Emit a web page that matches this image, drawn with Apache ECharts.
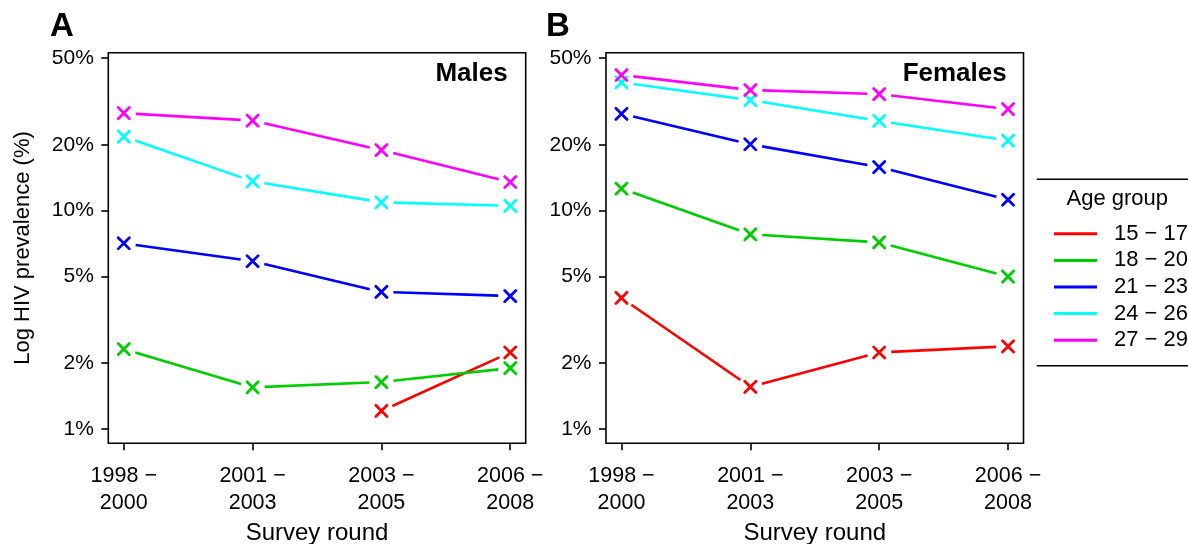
<!DOCTYPE html>
<html>
<head>
<meta charset="utf-8">
<script src="https://cdn.jsdelivr.net/npm/echarts@6/dist/echarts.min.js"></script>
<style>
html,body{margin:0;padding:0;background:#fff;}
#chart{width:1188px;height:544px;}
</style>
</head>
<body>
<div id="chart"></div>
<script>
// ---- data ----
const rounds = ['1998 \u2212\n2000', '2001 \u2212\n2003', '2003 \u2212\n2005', '2006 \u2212\n2008'];
const ageGroups = ['15 \u2212 17', '18 \u2212 20', '21 \u2212 23', '24 \u2212 26', '27 \u2212 29'];
const groupColors = ['#FF0000', '#00CD00', '#0000FF', '#00FFFF', '#FF00FF'];
const yTicks = [1, 2, 5, 10, 20, 50];

// Males (% HIV prevalence)
const males15_17 = [null, null, 1.21, 2.24];
const males18_20 = [2.32, 1.55, 1.64, 1.90];
const males21_23 = [7.08, 5.86, 4.24, 4.06];
const males24_26 = [21.8, 13.6, 10.9, 10.5];
const males27_29 = [27.9, 25.8, 18.9, 13.5];

// Females (% HIV prevalence)
const females15_17 = [3.98, 1.56, 2.24, 2.39];
const females18_20 = [12.6, 7.78, 7.15, 4.98];
const females21_23 = [27.7, 20.1, 15.8, 11.2];
const females24_26 = [38.6, 32.0, 25.7, 20.9];
const females27_29 = [41.7, 35.6, 34.1, 29.1];

const malesData = [males15_17, males18_20, males21_23, males24_26, males27_29];
const femalesData = [females15_17, females18_20, females21_23, females24_26, females27_29];

// ---- chart ----
const FONT = 'Liberation Sans, Arial, Helvetica, sans-serif';
const LW = 2.6;
const MW = 2.8;

function renderSeg(params, api) {
  const x = api.value(0), y = api.value(1), y2 = api.value(2);
  const color = api.visual('color');
  if (!(isFinite(y) && y > 0)) return { type: 'group', children: [] };
  const p = api.coord([x, y]);
  const s = 5.6;
  const st = { stroke: color, lineWidth: MW, lineCap: 'round' };
  const children = [
    { type: 'line', shape: { x1: p[0] - s, y1: p[1] - s, x2: p[0] + s, y2: p[1] + s }, style: st },
    { type: 'line', shape: { x1: p[0] - s, y1: p[1] + s, x2: p[0] + s, y2: p[1] - s }, style: st }
  ];
  if (isFinite(y2) && y2 > 0) {
    const q = api.coord([x + 1, y2]);
    const dx = q[0] - p[0], dy = q[1] - p[1];
    const L = Math.sqrt(dx * dx + dy * dy), g = 12;
    children.push({
      type: 'line',
      shape: { x1: p[0] + dx * g / L, y1: p[1] + dy * g / L, x2: q[0] - dx * g / L, y2: q[1] - dy * g / L },
      style: { stroke: color, lineWidth: LW }
    });
  }
  return { type: 'group', children: children };
}

function buildItems(vals) {
  const items = [];
  for (let i = 0; i < vals.length; i++) {
    const v = vals[i] == null ? NaN : vals[i];
    const n = (i + 1 < vals.length && vals[i + 1] != null) ? vals[i + 1] : NaN;
    items.push([i, v, n]);
  }
  return items;
}

const series = [];
[malesData, femalesData].forEach(function (panel, pi) {
  panel.forEach(function (vals, gi) {
    series.push({
      type: 'custom',
      name: ageGroups[gi],
      xAxisIndex: pi,
      yAxisIndex: pi,
      renderItem: renderSeg,
      itemStyle: { color: groupColors[gi] },
      encode: { x: 0, y: 1 },
      dimensions: ['x', 'y', 'y2'],
      data: buildItems(vals),
      z: 2 + gi
    });
  });
});

function xAxisDef(gi) {
  return {
    type: 'value', gridIndex: gi, min: -0.12, max: 3.12,
    axisLine: { show: false, onZero: false },
    axisTick: { show: true, customValues: [0, 1, 2, 3], length: 7, lineStyle: { color: '#000', width: 1.6 } },
    axisLabel: {
      customValues: [0, 1, 2, 3],
      formatter: function (v) { return rounds[Math.round(v)]; },
      color: '#000', fontFamily: FONT, fontSize: 21.5, lineHeight: 27, margin: 19
    },
    splitLine: { show: false },
    name: 'Survey round', nameLocation: 'middle', nameGap: 78,
    nameTextStyle: { color: '#000', fontFamily: FONT, fontSize: 24 }
  };
}
function yAxisDef(gi, withName) {
  const a = {
    type: 'log', logBase: 10, gridIndex: gi, min: 0.860, max: 52.76,
    axisLine: { show: false, onZero: false },
    axisTick: { show: true, customValues: yTicks, length: 7, lineStyle: { color: '#000', width: 1.6 } },
    minorTick: { show: false },
    axisLabel: {
      customValues: yTicks,
      formatter: function (v) { return Math.round(v) + '%'; },
      color: '#000', fontFamily: FONT, fontSize: 21, margin: 14.5
    },
    splitLine: { show: false }
  };
  if (withName) {
    a.name = 'Log HIV prevalence (%)';
    a.nameLocation = 'middle';
    a.nameGap = 74.5;
    a.nameTextStyle = { color: '#000', fontFamily: FONT, fontSize: 22 };
  }
  return a;
}

const gridCommon = { show: true, borderColor: '#000', borderWidth: 1.6, backgroundColor: 'transparent', containLabel: false, outerBoundsMode: 'none' };
const option = {
  animation: false,
  backgroundColor: '#fff',
  grid: [
    Object.assign({ left: 108.3, top: 52.7, width: 417.4, height: 390.6 }, gridCommon),
    Object.assign({ left: 606, top: 52.7, width: 417.5, height: 390.6 }, gridCommon)
  ],
  xAxis: [xAxisDef(0), xAxisDef(1)],
  yAxis: [yAxisDef(0, true), yAxisDef(1, false)],
  legend: {
    orient: 'vertical', left: 1049, top: 215.5,
    itemWidth: 43, itemHeight: 3, itemGap: 0, icon: 'rect',
    selectedMode: false,
    textStyle: { color: '#000', fontFamily: FONT, fontSize: 22, lineHeight: 26.6, padding: [0, 0, 0, 12] },
    data: ageGroups.map(function (n, i) { return { name: n, itemStyle: { color: groupColors[i] } }; })
  },
  graphic: [
    { type: 'text', left: 50, top: 10, style: { text: 'A', font: 'bold 33px ' + FONT, fill: '#000' } },
    { type: 'text', left: 546, top: 10, style: { text: 'B', font: 'bold 33px ' + FONT, fill: '#000' } },
    { type: 'text', x: 507.7, y: 74, style: { text: 'Males', font: 'bold 26px ' + FONT, fill: '#000', textAlign: 'right', textVerticalAlign: 'middle' } },
    { type: 'text', x: 1006.7, y: 74, style: { text: 'Females', font: 'bold 26px ' + FONT, fill: '#000', textAlign: 'right', textVerticalAlign: 'middle' } },
    { type: 'text', x: 1066.5, y: 199.3, style: { text: 'Age group', font: '22px ' + FONT, fill: '#000', textAlign: 'left', textVerticalAlign: 'middle' } },
    { type: 'line', shape: { x1: 1036.7, y1: 179.3, x2: 1190, y2: 179.3 }, style: { stroke: '#000', lineWidth: 1.6 } },
    { type: 'line', shape: { x1: 1036.7, y1: 365.7, x2: 1190, y2: 365.7 }, style: { stroke: '#000', lineWidth: 1.6 } }
  ],
  series: series
};

const chart = echarts.init(document.getElementById('chart'), null, { renderer: 'canvas' });
chart.setOption(option);
</script>
</body>
</html>
